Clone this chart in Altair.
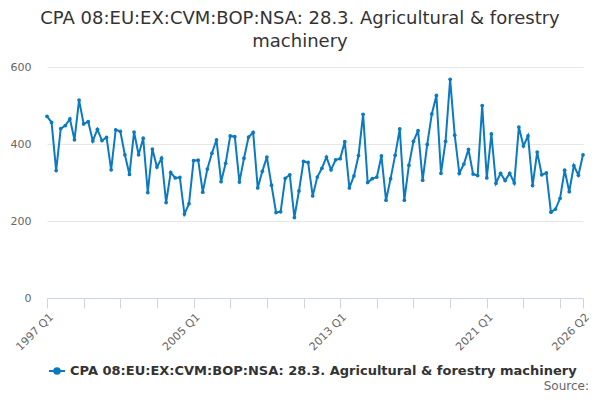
import altair as alt
import pandas as pd

SERIES = "CPA 08:EU:EX:CVM:BOP:NSA: 28.3. Agricultural & forestry machinery"
COLOR = "#0b7ac0"

quarters = [f"{y} Q{q}" for y in range(1997, 2027) for q in range(1, 5)][:118]

values = [
    472, 456, 331, 440, 448, 465, 411, 514, 452, 458,
    408, 438, 409, 417, 333, 437, 433, 372, 321, 431,
    372, 415, 274, 387, 340, 363, 248, 326, 312, 313,
    218, 245, 357, 358, 275, 335, 376, 411, 302, 350,
    421, 419, 301, 363, 418, 430, 286, 329, 366, 293,
    222, 224, 311, 320, 209, 278, 355, 352, 265, 314,
    337, 366, 333, 359, 362, 406, 286, 317, 370, 477,
    300, 310, 314, 369, 254, 310, 371, 439, 254, 345,
    407, 435, 306, 399, 478, 526, 324, 407, 568, 423,
    324, 348, 386, 322, 318, 500, 312, 426, 298, 324,
    305, 324, 299, 444, 395, 421, 292, 379, 320, 325,
    223, 231, 259, 332, 276, 344, 319, 372,
]

tick_quarters = quarters[::8] + [quarters[-1]]
label_quarters = ["1997 Q1", "2005 Q1", "2013 Q1", "2021 Q1", "2026 Q2"]
y_ticks = [0, 200, 400, 600]

df = pd.DataFrame({"quarter": quarters, "value": values, "series": SERIES})

label_list = "[" + ",".join(f"'{q}'" for q in label_quarters) + "]"

x_enc = alt.X(
    "quarter:O",
    sort=quarters,
    scale=alt.Scale(type="point", padding=0),
    axis=alt.Axis(
        title=None,
        values=tick_quarters,
        labelExpr=f"indexof({label_list}, datum.value) >= 0 ? datum.value : ''",
        labelAngle=-45,
        labelAlign="right",
        labelBaseline="top",
        labelFontSize=11,
        labelColor="#666666",
        labelFont="DejaVu Sans",
        labelPadding=3,
        domainColor="#ccd6eb",
        tickColor="#ccd6eb",
        tickSize=10,
        grid=False,
        labelOverlap=False,
    ),
)
y_enc = alt.Y(
    "value:Q",
    scale=alt.Scale(domain=[0, 600], nice=False),
    axis=alt.Axis(
        title=None,
        values=y_ticks,
        domain=False,
        ticks=False,
        gridColor="#e6e6e6",
        labelFontSize=11,
        labelColor="#666666",
        labelFont="DejaVu Sans",
        labelPadding=16,
    ),
)
color_enc = alt.Color(
    "series:N",
    scale=alt.Scale(domain=[SERIES], range=[COLOR]),
    legend=alt.Legend(
        title=None,
        orient="none",
        legendX=1,
        legendY=295,
        symbolType="M-1,0L1,0M-0.35,0A0.35,0.35,0,1,1,0.35,0A0.35,0.35,0,1,1,-0.35,0Z",
        symbolSize=256,
        symbolStrokeWidth=2,
        symbolFillColor=COLOR,
        symbolStrokeColor=COLOR,
        labelFontSize=13,
        labelFontWeight="bold",
        labelColor="#333333",
        labelFont="DejaVu Sans",
        labelLimit=600,
    ),
)

line = alt.Chart(df).mark_line(strokeWidth=2).encode(x=x_enc, y=y_enc, color=color_enc)
points = alt.Chart(df).mark_point(filled=True, size=14, opacity=1).encode(
    x=x_enc, y=y_enc, color=alt.Color("series:N", scale=alt.Scale(domain=[SERIES], range=[COLOR]), legend=None)
)
source = alt.Chart(pd.DataFrame({"t": ["Source:"]})).mark_text(
    align="right", baseline="alphabetic", fontSize=12, color="#666666", font="DejaVu Sans"
).encode(text="t:N", x=alt.value(542), y=alt.value(323))

chart = (
    alt.layer(line, points, source)
    .properties(
        width=536,
        height=231,
        autosize=alt.AutoSizeParams(type="none"),
        padding={"left": 39, "top": 59, "right": 9, "bottom": 94},
        title=alt.TitleParams(
            text=["CPA 08:EU:EX:CVM:BOP:NSA: 28.3. Agricultural & forestry", "machinery"],
            anchor="middle",
            fontSize=18,
            fontWeight="normal",
            color="#333333",
            font="DejaVu Sans",
            lineHeight=23,
            offset=10,
            dx=-15,
        ),
    )
    .configure_view(stroke=None)
)

chart.save("out.html", embed_options={"renderer": "svg", "actions": False})
